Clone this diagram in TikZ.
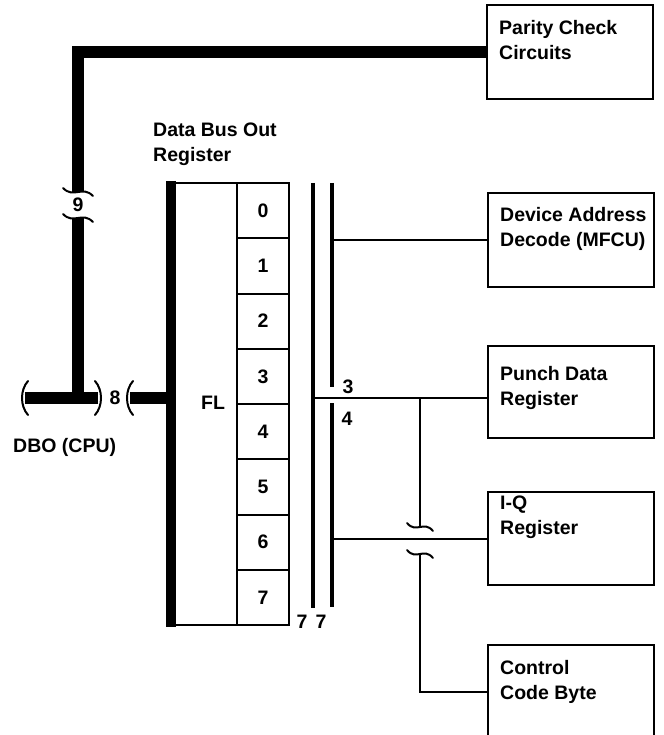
\documentclass[tikz,border=0pt]{standalone}
\usepackage{fontspec}
\setmainfont{Liberation Sans}
\usepackage{tikz}
\usetikzlibrary{positioning, calc}
\tikzset{
  unitbox/.style={draw, line width=2pt, minimum width=166pt, minimum height=94pt, inner sep=0pt},
  unittext/.style={align=left, inner sep=0pt, anchor=north west},
  cellbox/.style={draw, line width=2pt, minimum width=52pt, minimum height=55.25pt, inner sep=0pt},
  bus/.style={line width=12pt},
  busline/.style={line width=3.5pt},
  wire/.style={line width=2pt},
  brk/.style={line width=2pt, line cap=round},
}
\newcommand{\hbreak}[2][1]{\draw[brk] ($(#2)+(-13*#1,-4)$) .. controls ($(#2)+(-4*#1,7)$) and ($(#2)+(4*#1,-7)$) .. ($(#2)+(13*#1,4)$);}
\newcommand{\vbreak}[2][1]{\draw[brk] ($(#2)+(3*#1,-17)$) .. controls ($(#2)+(-5*#1,-8)$) and ($(#2)+(-5*#1,8)$) .. ($(#2)+(3*#1,17)$);}

\begin{document}
\begin{tikzpicture}[x=1pt, y=-1pt, font=\fontsize{19.5}{25}\selectfont\bfseries]
    \useasboundingbox (0,0) rectangle (663,735);
    \node[unitbox] (parity) at (570,52.5) {};
    \node[unittext, below right=16pt and 13pt of parity.north west] (paritytxt) {Parity Check\\Circuits};
    \node[unitbox] (device) at (571,240) {};
    \node[unittext, below right=15pt and 13pt of device.north west] (devicetxt) {Device Address\\Decode (MFCU)};
    \node[unitbox, minimum height=92pt] (punch) at (571,392) {};
    \node[unittext, below right=21pt and 13pt of punch.north west] (punchtxt) {Punch Data\\Register};
    \node[unitbox, minimum height=93pt] (iq) at (571,538.5) {};
    \node[unittext, below right=5pt and 13pt of iq.north west] (iqtxt) {I-Q\\Register};
    \node[unitbox, minimum height=94pt] (control) at (571,692) {};
    \node[unittext, below right=16pt and 13pt of control.north west] (controltxt) {Control\\Code Byte};

    \node[unittext] (dbortxt) at (153,123) {Data Bus Out\\Register};
    \node[draw, line width=2pt, minimum width=65pt, minimum height=442pt, inner sep=0pt] (fl) at (204.5,404) {};
    \node (fltxt) at (213,403) {FL};
    \foreach \i in {0,...,7}
        \node[cellbox] (c\i) at (263,{183+55.25*(\i+0.5)}) {\i};
    \draw[line width=10pt] ($(fl.north west)+(0,-1)$) -- ($(fl.south west)+(0,1)$);

    \coordinate (a1) at (313,183);
    \coordinate (a2) at (313,608);
    \coordinate (b1) at (332,183);
    \coordinate (b2) at (332,387);
    \coordinate (b3) at (332,403);
    \coordinate (b4) at (332,607);
    \draw[busline] (a1) -- (a2);
    \draw[busline] (b1) -- (b2);
    \draw[busline] (b3) -- (b4);
    \node (n3) at (348,387) {3};
    \node (n4) at (347,419) {4};
    \node (n7a) at (302,622) {7};
    \node (n7b) at (321,622) {7};

    \draw[wire] (device.west -| b1) -- (device.west);
    \coordinate (t3) at (313,398);
    \coordinate (j3) at (420,398);
    \coordinate (k1) at (420,527);
    \coordinate (k2) at (420,554);
    \draw[wire] (t3) -- (t3 -| punch.west);
    \draw[wire] (j3) -- (k1);
    \draw[wire] (k2) -- (k2 |- control.west) -- (control.west);
    \draw[wire] (iq.west -| b3) -- (iq.west);
    \hbreak{k1}
    \hbreak{k2}

    \coordinate (d0) at (25,398);
    \coordinate (d1) at (98,398);
    \coordinate (d2) at (130,398);
    \coordinate (dboj) at (78,398);
    \coordinate (v1) at (78,218);
    \coordinate (v2) at (78,192);
    \draw[bus] (d0) -- (d1);
    \draw[bus] (d2) -- (d2 -| fl.west);
    \draw[bus] (dboj) -- (v1);
    \draw[bus] (v2) -- (v2 |- parity.west) -- (parity.west);
    \hbreak[1.15]{v1}
    \hbreak[1.15]{v2}
    \vbreak{d0}
    \vbreak[-1]{d1}
    \vbreak{d2}
    \node (n9) at (78,205) {9};
    \node (n8) at (115,398) {8};
    \node[anchor=west, inner sep=0pt] (dbo) at (13,447) {DBO (CPU)};
\end{tikzpicture}
\end{document}
